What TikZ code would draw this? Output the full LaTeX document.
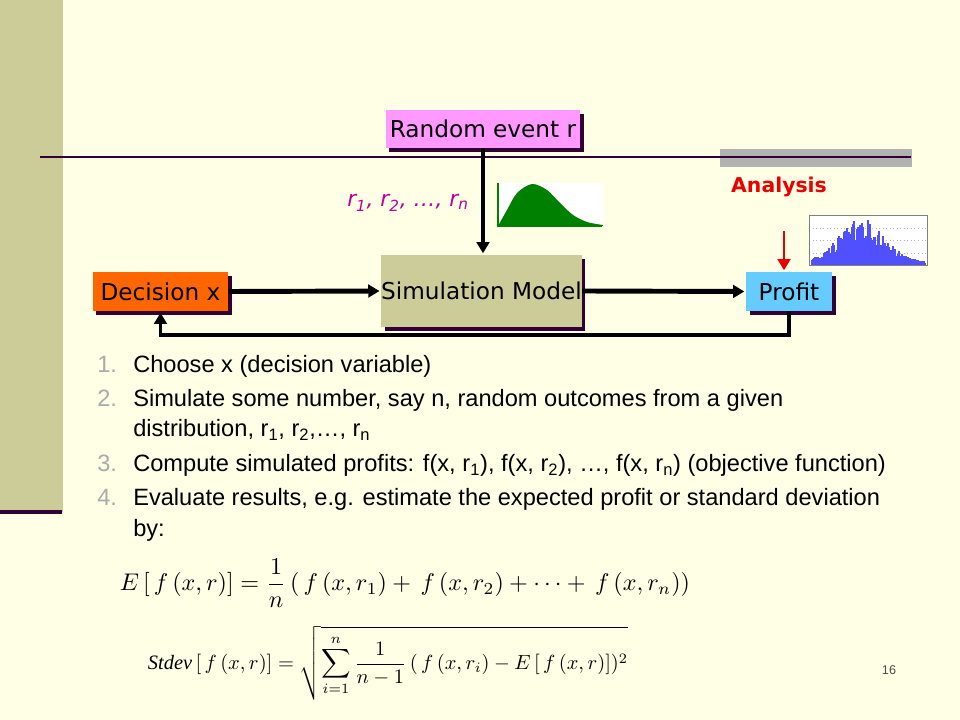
\documentclass[tikz,border=0pt]{standalone}
\usepackage{fontspec}
\setmainfont{Liberation Sans}
\newfontfamily\comic{DejaVu Sans}
\newfontfamily\timesfont{Liberation Serif}
\usepackage{graphicx}
\usetikzlibrary{arrows.meta,shadows}
\definecolor{slidebg}{RGB}{255,255,230}
\definecolor{olive}{RGB}{204,204,153}
\definecolor{darkline}{RGB}{51,0,51}
\definecolor{pinkbox}{RGB}{255,153,255}
\definecolor{orangebox}{RGB}{255,102,0}
\definecolor{bluebox}{RGB}{102,204,255}
\definecolor{rlabel}{RGB}{190,0,150}
\definecolor{distgreen}{RGB}{0,128,0}
\definecolor{histblue}{RGB}{80,80,255}
\definecolor{numgray}{RGB}{170,170,170}
\definecolor{bargray}{RGB}{178,178,178}
\definecolor{anared}{RGB}{235,0,0}
\begin{document}
\begin{tikzpicture}[x=0.025cm, y=-0.025cm, shorten >=1pt,
  box/.style={rectangle, draw=none, inner sep=0pt, font=\comic\fontsize{16.5}{19}\selectfont,
    drop shadow={shadow xshift=2.5pt, shadow yshift=-2.5pt, fill=darkline, opacity=1}},
  item/.style={anchor=base west, inner sep=0pt, font=\fontsize{16.8}{20}\selectfont},
  num/.style={item, text=numgray},
  tip/.style={-{Triangle[length=8pt,width=9pt]}}]
% slide background
\fill[slidebg] (0,0) rectangle (960,720);
\useasboundingbox (0,0) rectangle (960,720);
\fill[olive] (0,0) rectangle (63,512);
\draw[darkline, line width=3pt] (0,512) -- (63,512);
\fill[bargray] (720,149) rectangle (912,167);
\draw[darkline, line width=1.5pt] (40,157) -- (912,157);
% green density
\fill[white] (497,183) rectangle (603,226);
\fill[distgreen] plot[smooth] coordinates {(498,226) (507,210) (517,193) (532,184) (547,190) (560,203) (573,215) (587,222) (603,225)} -- (603,226) -- cycle;
\draw[distgreen, line width=1pt] (498,183) -- (498,226) -- (603,226);
% histogram
\fill[white] (809,215) rectangle (927,265);
\draw[gray!60, dotted, line width=0.5pt] (809,228) -- (927,228) (809,240) -- (927,240) (809,253) -- (927,253);
\pgfmathsetseed{7}
\begin{scope}[shift={(0,265)}]
\draw[histblue, line width=0.75pt, ycomb] plot[domain=812:925, samples=114] (\x, {-(3+44*exp(-((\x-862)/32)^2)*(0.35+0.65*rnd))});
\end{scope}
\draw[gray, line width=0.6pt] (809,215) rectangle (927,265);
\begin{scope}[every node/.style={box}]
\node[fill=pinkbox, minimum width=4.85cm, minimum height=0.95cm] (rand) at (483,129) {Random event r};
\node[fill=olive, minimum width=4.625cm, minimum height=1.8cm] (sim) at (481.5,291) {Simulation Model};
\node[fill=orangebox, minimum width=3.375cm, minimum height=0.975cm] (dec) at (160.5,291.5) {Decision x};
\node[fill=bluebox, minimum width=2.15cm, minimum height=0.975cm] (prof) at (789,291.5) {Profit};
\end{scope}
\node[text=rlabel, font=\comic\itshape\fontsize{15.5}{18}\selectfont] (rs) at (408,203) {r\textsubscript{1}, r\textsubscript{2}, …, r\textsubscript{n}};
\node[text=anared, font=\comic\bfseries\fontsize{14.5}{17}\selectfont] (ana) at (779,187) {Analysis};
\coordinate (redtop) at (784,231);
\begin{scope}[line width=3.5pt]
\draw[tip] (rand.south) -- (rand.south |- sim.north);
\draw[tip] (dec.east) -- (sim.west);
\draw[tip] (sim.east) -- (prof.west);
\draw[tip, line width=2.8pt] (prof.south) -- ++(0,24) -| (dec.south);
\draw[tip, anared, line width=2pt] (redtop) -- (redtop |- prof.north);
\end{scope}
% steps
\node[num] (n1) at (97,373) {1.};
\node[item] (s1) at (133,373) {Choose x (decision variable)};
\node[num] (n2) at (97,407) {2.};
\node[item] (s2) at (133,407) {Simulate some number, say n, random outcomes from a given};
\node[item] (s2b) at (133,437) {distribution, r\textsubscript{1}, r\textsubscript{2},…, r\textsubscript{n}};
\node[num] (n3) at (97,472) {3.};
\node[item] (s3) at (133,472) {Compute simulated profits: f(x, r\textsubscript{1}), f(x, r\textsubscript{2}), …, f(x, r\textsubscript{n}) (objective function)};
\node[num] (n4) at (97,505) {4.};
\node[item] (s4) at (133,505) {Evaluate results, e.g. estimate the expected profit or standard deviation};
\node[item] (s4b) at (133,536) {by:};
% formulas
\node[inner sep=0pt] (mean) at (405,583) {\resizebox{14.25cm}{!}{$\displaystyle E\,[\,f\,(x,r)] = \frac{1}{n}\,(\,f\,(x,r_1) +\, f\,(x,r_2) + \cdots +\, f\,(x,r_n))$}};
\node[inner sep=0pt] (sdev) at (388,663) {\resizebox{12cm}{!}{$\displaystyle \mbox{\timesfont\itshape Stdev}\,[\,f\,(x,r)] = \sqrt{\sum_{i=1}^{n}\frac{1}{n-1}\,(\,f\,(x,r_i) - E\,[\,f\,(x,r)])^{2}}$}};
\node[font=\fontsize{9}{11}\selectfont, text=black!70] (page) at (889,670) {16};
\end{tikzpicture}
\end{document}
